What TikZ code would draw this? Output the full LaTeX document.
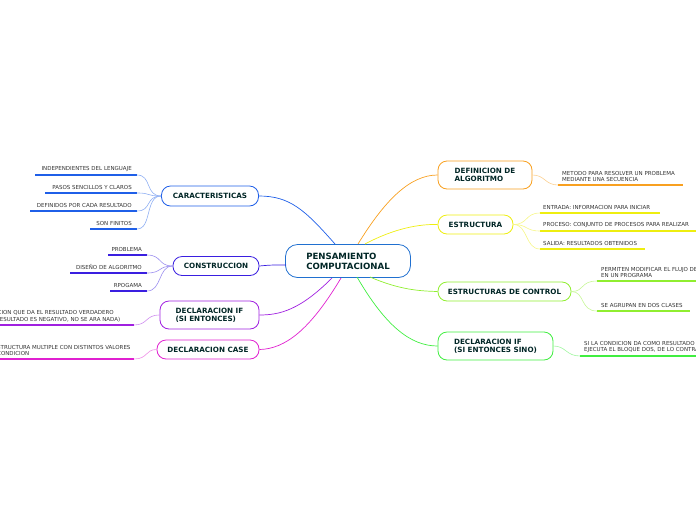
\documentclass[tikz,border=0pt]{standalone}
\usepackage{fontspec}
\setmainfont{DejaVu Sans}
\begin{document}
\begin{tikzpicture}[x=1pt,y=-1pt,
  main/.style={draw=#1,rounded corners=9pt,line width=0.8pt,fill=white,font=\fontsize{7.2}{8.2}\selectfont\bfseries,text=black!70!teal,align=left,inner xsep=7pt},
  leaf/.style={font=\fontsize{5.5}{6.4}\selectfont,text=black!80,align=left,inner sep=1pt},
  ul/.style={draw=#1,line width=1.3pt},
  br/.style={draw=#1,line width=0.7pt},
  lb/.style={draw=#1!50,line width=0.6pt}]
\useasboundingbox (0,0) rectangle (696,520);
\clip (0,0) rectangle (696,520);
\definecolor{cblue}{HTML}{1F5FE8}
\definecolor{cind}{HTML}{3A1FE0}
\definecolor{cpur}{HTML}{A020E0}
\definecolor{cmag}{HTML}{E020D0}
\definecolor{corg}{HTML}{F8A020}
\definecolor{cyel}{HTML}{EEEE10}
\definecolor{clim}{HTML}{90EE30}
\definecolor{cgrn}{HTML}{40EE40}
\definecolor{ccen}{HTML}{2070D0}
% center
\node[main=ccen,minimum width=125pt,minimum height=33pt,font=\fontsize{8.6}{10}\selectfont\bfseries,rounded corners=12pt] (c) at (348,261) {PENSAMIENTO\\COMPUTACIONAL};
% attach points
\coordinate (a1) at (335,244); \coordinate (a2) at (286,265);
\coordinate (a3) at (332,278); \coordinate (a4) at (341,278);
\coordinate (b1) at (358,244); \coordinate (b2) at (365,244);
\coordinate (b3) at (370,277); \coordinate (b4) at (357,277);
% branches
\node[main=cblue,minimum width=97pt,minimum height=20pt] (car) at (210,196) {CARACTERISTICAS};
\node[main=cind,minimum width=86pt,minimum height=19pt] (con) at (216,266) {CONSTRUCCION};
\node[main=cpur,minimum width=99pt,minimum height=28pt] (ifl) at (209.5,315) {DECLARACION IF\\(SI ENTONCES)};
\node[main=cmag,minimum width=102pt,minimum height=19pt] (cas) at (208,349.5) {DECLARACION CASE};
\node[main=corg,minimum width=94pt,minimum height=28pt] (def) at (485,175) {DEFINICION DE\\ALGORITMO};
\node[main=cyel,minimum width=75pt,minimum height=19pt] (est) at (475.5,224.5) {ESTRUCTURA};
\node[main=clim,minimum width=133pt,minimum height=19pt] (ctl) at (504.5,291.5) {ESTRUCTURAS DE CONTROL};
\node[main=cgrn,minimum width=115pt,minimum height=28pt] (ifr) at (495.5,346) {DECLARACION IF\\(SI ENTONCES SINO)};
% branch connectors
\draw[br=cblue] (a1) .. controls (305,210) and (290,196) .. (car.east);
\draw[br=cind] (a2) .. controls (270,265) .. (con.east);
\draw[br=cpur] (a3) .. controls (300,310) and (280,315) .. (ifl.east);
\draw[br=cmag] (a4) .. controls (310,330) and (285,349) .. (cas.east);
\draw[br=corg] (b1) .. controls (385,200) and (410,175) .. (def.west);
\draw[br=cyel] (b2) .. controls (395,228) and (420,224) .. (est.west);
\draw[br=clim] (b3) .. controls (400,290) and (420,291) .. (ctl.west);
\draw[br=cgrn] (b4) .. controls (385,325) and (410,346) .. (ifr.west);
% left leaves: caracteristicas
\foreach \n/\y/\xs/\t in {c1/175/35/INDEPENDIENTES DEL LENGUAJE,c2/193/45/PASOS SENCILLOS Y CLAROS,c3/211/30/DEFINIDOS POR CADA RESULTADO,c4/229/90/SON FINITOS}{
  \coordinate (\n s) at (\xs,\y); \coordinate (\n e) at (137,\y);
  \draw[ul=cblue] (\n s) -- (\n e);
  \node[leaf,anchor=south east] (\n t) at (133,\y-2) {\t};
  \draw[lb=cblue] (\n e) .. controls (152,\y) and (145,196) .. (car.west);
}
\foreach \n/\y/\xs/\t in {d1/255/108/PROBLEMA,d2/273/70/DISEÑO DE ALGORITMO,d3/291/110/RPOGAMA}{
  \coordinate (\n s) at (\xs,\y); \coordinate (\n e) at (147,\y);
  \draw[ul=cind] (\n s) -- (\n e);
  \node[leaf,anchor=south east] (\n t) at (143,\y-2) {\t};
  \draw[lb=cind] (\n e) .. controls (162,\y) and (158,266) .. (con.west);
}
\coordinate (e1s) at (0,325); \coordinate (e1e) at (134,325);
\draw[ul=cpur] (e1s) -- (e1e);
\node[leaf,anchor=south east] (e1t) at (131,323) {NDICION QUE DA EL RESULTADO VERDADERO\hspace*{16pt}\\EL RESULTADO ES NEGATIVO, NO SE ARA NADA)};
\draw[lb=cpur] (e1e) .. controls (148,325) and (145,315) .. (ifl.west);
\coordinate (f1s) at (0,359); \coordinate (f1e) at (134,359);
\draw[ul=cmag] (f1s) -- (f1e);
\node[leaf,anchor=south west] (f1t) at (-4,357) {STRUCTURA MULTIPLE CON DISTINTOS VALORES\\ CONDICION};
\draw[lb=cmag] (f1e) .. controls (148,359) and (145,349.5) .. (cas.west);
% right leaves
\coordinate (g1s) at (558,185); \coordinate (g1e) at (683,185);
\draw[ul=corg] (g1s) -- (g1e);
\node[leaf,anchor=south west] (g1t) at (561,183) {METODO PARA RESOLVER UN PROBLEMA\\MEDIANTE UNA SECUENCIA};
\draw[lb=corg] (def.east) .. controls (545,175) and (545,185) .. (g1s);
\foreach \n/\y/\xe/\t in {h1/213/660/ENTRADA: INFORMACION PARA INICIAR,h2/231/700/PROCESO: CONJUNTO DE PROCESOS PARA REALIZAR,h3/249/645/SALIDA: RESULTADOS OBTENIDOS}{
  \coordinate (\n s) at (540,\y); \coordinate (\n e) at (\xe,\y);
  \draw[ul=cyel] (\n s) -- (\n e);
  \node[leaf,anchor=south west] (\n t) at (542,\y-2) {\t};
  \draw[lb=cyel] (est.east) .. controls (528,224.5) and (525,\y) .. (\n s);
}
\coordinate (k1s) at (597,281); \coordinate (k1e) at (700,281);
\draw[ul=clim] (k1s) -- (k1e);
\node[leaf,anchor=south west] (k1t) at (600,279) {PERMITEN MODIFICAR EL FLUJO DE\\EN UN PROGRAMA};
\draw[lb=clim] (ctl.east) .. controls (585,291.5) and (580,281) .. (k1s);
\coordinate (k2s) at (597,311); \coordinate (k2e) at (690,311);
\draw[ul=clim] (k2s) -- (k2e);
\node[leaf,anchor=south west] (k2t) at (600,309) {SE AGRUPAN EN DOS CLASES};
\draw[lb=clim] (ctl.east) .. controls (585,291.5) and (580,311) .. (k2s);
\coordinate (m1s) at (580,356); \coordinate (m1e) at (700,356);
\draw[ul=cgrn] (m1s) -- (m1e);
\node[leaf,anchor=south west] (m1t) at (583,354) {SI LA CONDICION DA COMO RESULTADO\\EJECUTA EL BLOQUE DOS, DE LO CONTRARIO};
\draw[lb=cgrn] (ifr.east) .. controls (566,346) and (566,356) .. (m1s);
\end{tikzpicture}
\end{document}
